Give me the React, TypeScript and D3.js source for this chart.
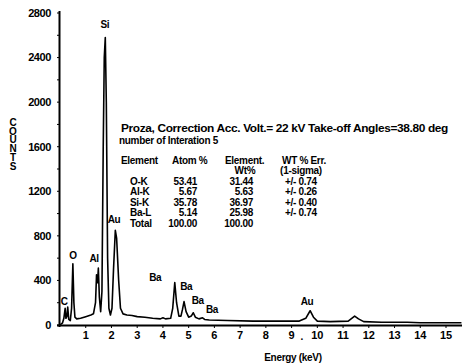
import React from "react";
import * as d3 from "d3";

const energy = [0.0, 0.1, 0.15, 0.2, 0.23, 0.27, 0.3, 0.34, 0.4, 0.45, 0.5, 0.54, 0.58, 0.65, 0.8, 1.0, 1.2, 1.3, 1.38, 1.42, 1.46, 1.49, 1.53, 1.58, 1.63, 1.68, 1.72, 1.76, 1.8, 1.85, 1.9, 1.96, 2.02, 2.08, 2.15, 2.2, 2.28, 2.35, 2.45, 2.6, 2.8, 3.0, 3.3, 3.6, 3.9, 4.0, 4.1, 4.3, 4.38, 4.46, 4.53, 4.62, 4.7, 4.76, 4.82, 4.9, 5.0, 5.1, 5.18, 5.26, 5.4, 5.54, 5.62, 5.8, 6.5, 7.5, 8.5, 9.3, 9.55, 9.72, 9.85, 10.0, 10.5, 11.2, 11.45, 11.6, 11.8, 12.5, 13.5, 14.0, 15.0, 15.6];
const counts = [0, 20, 60, 150, 60, 80, 160, 50, 40, 150, 550, 200, 70, 55, 60, 75, 90, 100, 200, 450, 380, 510, 250, 120, 300, 1600, 2400, 2580, 2000, 600, 150, 90, 150, 500, 850, 780, 400, 150, 100, 90, 85, 75, 70, 60, 55, 65, 55, 60, 150, 380, 200, 80, 80, 140, 210, 120, 70, 80, 110, 70, 55, 65, 50, 45, 40, 35, 35, 35, 60, 128, 70, 35, 30, 35, 80, 55, 30, 25, 25, 20, 20, 20];

const yTicks = [0, 400, 800, 1200, 1600, 2000, 2400, 2800];
const xTicks = [1, 2, 3, 4, 5, 6, 7, 8, 9, 10, 11, 12, 13, 14, 15];

const peakLabels = ["C", "O", "Al", "Si", "Au", "Ba", "Ba", "Ba", "Ba", "Au"];
const peakE = [0.16, 0.5, 1.32, 1.74, 2.1, 3.7, 4.9, 5.35, 5.9, 9.6];
const peakC = [215, 620, 600, 2695, 945, 430, 350, 220, 135, 210];

const yTitle = "COUNTS";
const xTitle = "Energy (keV)";
const headerLine = "Proza, Correction  Acc. Volt.= 22 kV Take-off Angles=38.80 deg";
const iterLine = "number of Interation  5";
const elements = ["O-K", "Al-K", "Si-K", "Ba-L", "Total"];
const atomPct = ["53.41", "5.67", "35.78", "5.14", "100.00"];
const wtPct = ["31.44", "5.63", "36.97", "25.98", "100.00"];
const wtErr = ["+/- 0.74", "+/- 0.26", "+/- 0.40", "+/- 0.74", ""];

const W = 465;
const H = 363;
const FONT = "'Liberation Sans', Arial, sans-serif";

export default function App() {
  const x = d3.scaleLinear().domain([0, 15]).range([60, 446]);
  const y = d3.scaleLinear().domain([0, 2800]).range([325, 13]);
  const data = energy.map((e, i) => [e, counts[i]] as [number, number]);
  const line = d3
    .line<[number, number]>()
    .x((d) => x(d[0]))
    .y((d) => y(d[1]));

  const minorY = d3.range(0, 2801, 200);
  const rowY = [181, 191.5, 202, 212.5, 223];

  return (
    <svg
      width={W}
      height={H}
      style={{ position: "absolute", left: 0, top: 0, background: "#fff" }}
      fontFamily={FONT}
    >
      <rect width={W} height={H} fill="#fff" />
      {/* axes */}
      <line x1={x(0) - 0.5} x2={x(0) - 0.5} y1={11} y2={327} stroke="#000" strokeWidth={2} />
      <line x1={57} x2={462} y1={y(0) + 0.5} y2={y(0) + 0.5} stroke="#000" strokeWidth={2} />
      {minorY.map((v) => (
        <line key={"my" + v} x1={x(0) - 3} x2={x(0)} y1={y(v)} y2={y(v)} stroke="#000" strokeWidth={1} />
      ))}
      {yTicks.map((v) => (
        <text
          key={"yt" + v}
          x={51}
          y={y(v)}
          dy="0.35em"
          textAnchor="end"
          fontSize={11}
          fontWeight="bold"
          letterSpacing={-0.4}
        >
          {v}
        </text>
      ))}
      {xTicks.map((v) => (
        <g key={"xt" + v}>
          <line x1={x(v)} x2={x(v)} y1={y(0)} y2={y(0) + 3} stroke="#000" strokeWidth={1} />
          <text x={x(v)} y={335} dy="0.35em" textAnchor="middle" fontSize={11} fontWeight="bold">
            {v}
          </text>
        </g>
      ))}
      <text x={302} y={336} dy="0.35em" textAnchor="middle" fontSize={10} fontWeight="bold">
        .
      </text>
      <text x={293} y={357} dy="0.35em" textAnchor="middle" fontSize={10} fontWeight="bold" letterSpacing={-0.3}>
        {xTitle}
      </text>
      <text
        x={13}
        y={117}
        fontSize={10}
        fontWeight="bold"
        letterSpacing={-2.3}
        style={{ writingMode: "vertical-rl", textOrientation: "upright" } as React.CSSProperties}
      >
        {yTitle}
      </text>
      {/* spectrum */}
      <path d={line(data) || ""} fill="none" stroke="#000" strokeWidth={1.6} strokeLinejoin="round" />
      {peakLabels.map((l, i) => (
        <text
          key={"pl" + i}
          x={x(peakE[i])}
          y={y(peakC[i])}
          dy="0.35em"
          textAnchor="middle"
          fontSize={10}
          fontWeight="bold"
          letterSpacing={-0.5}
        >
          {l}
        </text>
      ))}
      {/* annotation block */}
      <g fontSize={10} fontWeight="bold" letterSpacing={-0.3}>
        <text x={121} y={128.5} dy="0.35em" textLength={327} lengthAdjust="spacingAndGlyphs">
          {headerLine}
        </text>
        <text x={119} y={140.5} dy="0.35em">
          {iterLine}
        </text>
        <text x={121} y={160.5} dy="0.35em">Element</text>
        <text x={172} y={160.5} dy="0.35em">Atom %</text>
        <text x={225} y={160.5} dy="0.35em">Element.</text>
        <text x={245} y={170.5} dy="0.35em" textAnchor="middle">Wt%</text>
        <text x={282} y={160.5} dy="0.35em">WT % Err.</text>
        <text x={301} y={170.5} dy="0.35em" textAnchor="middle">(1-sigma)</text>
        {elements.map((el, i) => (
          <g key={"row" + i}>
            <text x={130} y={rowY[i]} dy="0.35em">{el}</text>
            <text x={197} y={rowY[i]} dy="0.35em" textAnchor="end">{atomPct[i]}</text>
            <text x={253} y={rowY[i]} dy="0.35em" textAnchor="end">{wtPct[i]}</text>
            <text x={285} y={rowY[i]} dy="0.35em">{wtErr[i]}</text>
          </g>
        ))}
      </g>
    </svg>
  );
}
